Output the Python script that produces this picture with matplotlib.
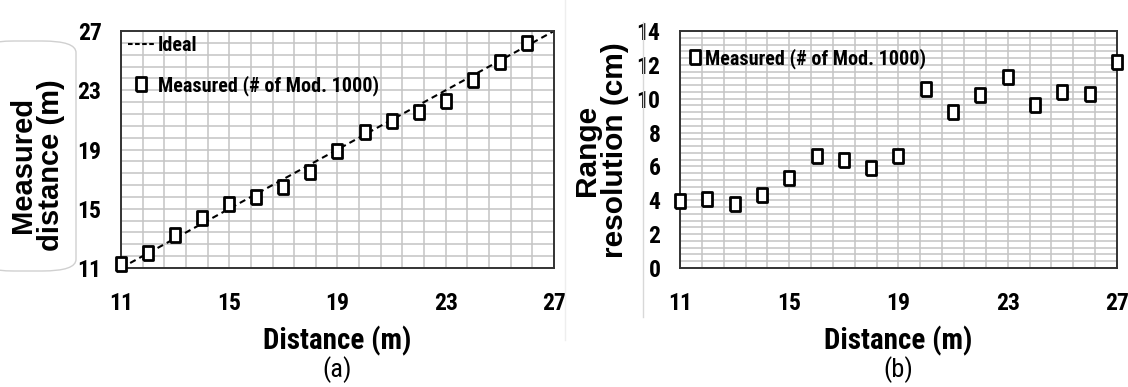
import numpy as np
import matplotlib
matplotlib.use("Agg")
import matplotlib.pyplot as plt
from matplotlib.lines import Line2D
from matplotlib.patches import FancyBboxPatch
from matplotlib import font_manager as fm

faces = [(f.name, f.weight) for f in fm.fontManager.ttflist]
def has_bold(name):
    return any(n == name and (w in ('bold', 700) or (isinstance(w, int) and w >= 700)) for n, w in faces)
NARROW = 'Liberation Sans'
for cand in ['Liberation Sans Narrow', 'Arial Narrow', 'Archivo Narrow', 'Roboto Condensed',
             'PT Sans Narrow', 'Pragati Narrow', 'Fira Sans Condensed']:
    if has_bold(cand):
        NARROW = cand
        break
WIDE = 'Liberation Sans'

# ---- data ----
dist_a = [11, 12, 13, 14, 15, 16, 17, 18, 19, 20, 21, 22, 23, 24, 25, 26]
measured_a = [11.3, 12.0, 13.25, 14.4, 15.3, 15.8, 16.5, 17.5, 18.9, 20.2,
              20.9, 21.5, 22.3, 23.7, 24.9, 26.2]
ideal_x = [11, 27]
ideal_y = [11, 27]

dist_b = [11, 12, 13, 14, 15, 16, 17, 18, 19, 20, 21, 22, 23, 24, 25, 26, 27]
resolution_b = [3.95, 4.1, 3.8, 4.3, 5.3, 6.6, 6.4, 5.9, 6.6, 10.6, 9.2,
                10.2, 11.3, 9.6, 10.4, 10.3, 12.15]

xticks = [11, 15, 19, 23, 27]
yticks_a = [11, 15, 19, 23, 27]
yticks_b = [0, 2, 4, 6, 8, 10, 12, 14]

W, H = 1128, 387
fig = plt.figure(figsize=(W / 100, H / 100), dpi=100)

box = [(-0.37, -0.5), (0.37, -0.5), (0.37, 0.5), (-0.37, 0.5), (-0.37, -0.5)]
mk = dict(marker=box, markersize=10.5, markerfacecolor='white',
          markeredgecolor='black', markeredgewidth=2.0, linestyle='none')

def style(ax, xlim, ylim, xmin_step, ymin_step, yt):
    ax.set_xlim(*xlim)
    ax.set_ylim(*ylim)
    ax.set_xticks(xticks)
    ax.set_yticks(yt)
    ax.set_xticks(np.arange(xlim[0], xlim[1] + 1e-6, xmin_step), minor=True)
    ax.set_yticks(np.arange(ylim[0], ylim[1] + 1e-6, ymin_step), minor=True)
    ax.grid(True, which='both', color='#c4c4c4', linewidth=1.1)
    ax.set_axisbelow(True)
    ax.tick_params(which='both', length=0)
    ax.tick_params(axis='x', pad=17)
    ax.tick_params(axis='y', pad=14)
    for lab in ax.get_xticklabels() + ax.get_yticklabels():
        lab.set_fontfamily(NARROW)
        lab.set_fontweight('bold')
        lab.set_fontsize(17)
    for s in ax.spines.values():
        s.set_color('#333333')
        s.set_linewidth(1.4)

# ---- panel (a) ----
axa = fig.add_axes([121 / W, 1 - 268 / H, 433 / W, 237 / H])
style(axa, (11, 27), (11, 27), 0.8, 0.8, yticks_a)
axa.plot(ideal_x, ideal_y, color='black', linestyle=(0, (3, 2)), linewidth=1.5)
axa.plot(dist_a, measured_a, clip_on=False, zorder=5, **mk)
h1 = Line2D([], [], color='black', linestyle=(0, (2.2, 1.2)), linewidth=1.5)
h2 = Line2D([], [], **mk)
axa.legend([h1, h2], ['Ideal', 'Measured (# of Mod. 1000)'], loc='upper left',
           bbox_to_anchor=(-0.025, 1.055), frameon=False, handlelength=1.3,
           handletextpad=0.15, labelspacing=1.0,
           prop=dict(family=NARROW, weight='bold', size=14.5))
axa.set_xlabel('Distance (m)', family=NARROW, weight='bold', fontsize=21, labelpad=8)

# ---- panel (b) ----
axb = fig.add_axes([680 / W, 1 - 268 / H, 437 / W, 237 / H])
style(axb, (11, 27), (0, 14), 0.8, 0.4, yticks_b)
axb.plot(dist_b, resolution_b, clip_on=False, zorder=5, **mk)
axb.legend([Line2D([], [], **mk)], ['Measured (# of Mod. 1000)'], loc='upper left',
           bbox_to_anchor=(-0.025, 1.005), frameon=False, handlelength=0.8,
           handletextpad=0.1,
           prop=dict(family=NARROW, weight='bold', size=14.5))
axb.set_xlabel('Distance (m)', family=NARROW, weight='bold', fontsize=21, labelpad=8)

# ---- y labels with faint boxes ----
fig.patches.append(FancyBboxPatch((-20 / W, 1 - 271 / H), 96 / W, 230 / H,
                                  boxstyle='round,pad=0,rounding_size=0.03',
                                  transform=fig.transFigure, facecolor='white',
                                  edgecolor='#d0d0d0', linewidth=1.0, zorder=0))
fig.add_artist(Line2D([643 / W, 643 / W], [1 - 317 / H, 1 - 22 / H],
                      transform=fig.transFigure, color='#d8d8d8', linewidth=1.0))
fig.add_artist(Line2D([565 / W, 565 / W], [1 - 340 / H, 1.0],
                      transform=fig.transFigure, color='#eeeeee', linewidth=1.0))

fig.text(37 / W, 1 - 165 / H, 'Measured\ndistance (m)', rotation=90, ha='center',
         va='center', family=WIDE, weight='bold', fontsize=21, linespacing=1.0,
         multialignment='center')
fig.text(601 / W, 1 - 150 / H, 'Range\nresolution (cm)', rotation=90, ha='center',
         va='center', family=WIDE, weight='bold', fontsize=21.5, linespacing=1.0,
         multialignment='center')

fig.text(337 / W, 1 - 370 / H, '(a)', ha='center', va='center', family=NARROW,
         fontsize=19)
fig.text(898 / W, 1 - 370 / H, '(b)', ha='center', va='center', family=NARROW,
         fontsize=19)

fig.savefig('out.png', dpi=100)
